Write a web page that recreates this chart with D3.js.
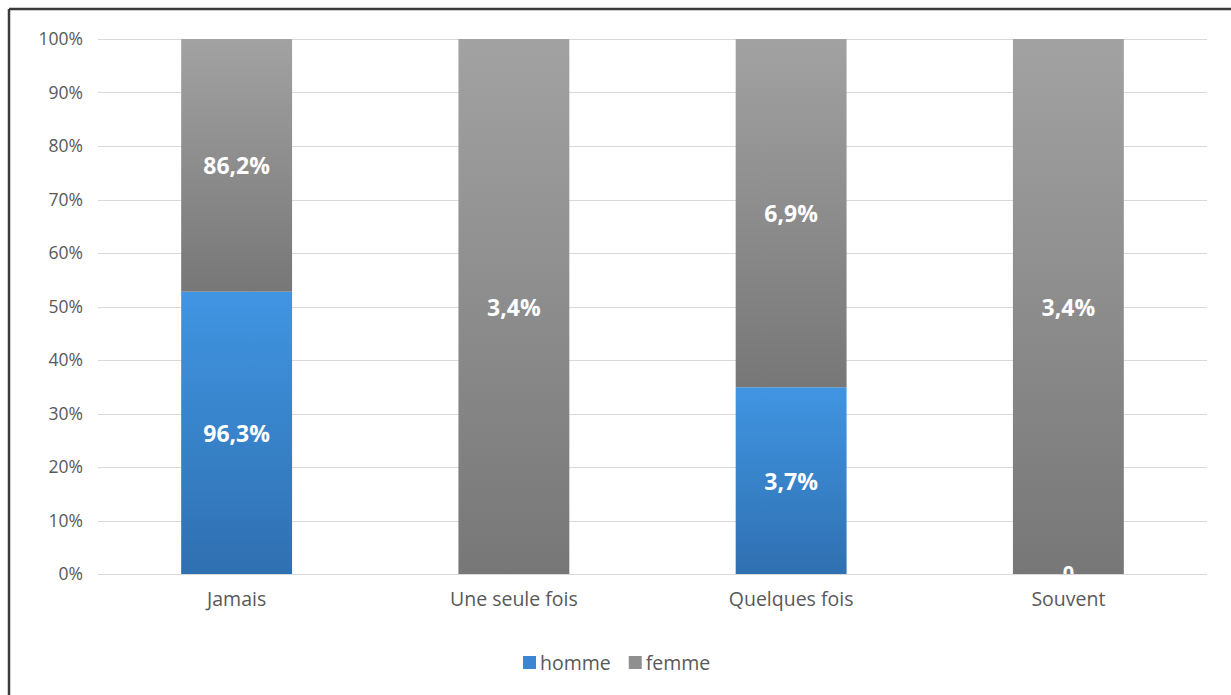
<!DOCTYPE html>
<html>
<head>
<meta charset="utf-8">
<script src="https://cdn.jsdelivr.net/npm/d3@7/dist/d3.min.js"></script>
<style>
  html, body { margin: 0; padding: 0; background: #fff; }
  svg { display: block; font-family: "Open Sans", "DejaVu Sans", sans-serif; }
</style>
</head>
<body>
<svg id="chart" width="1231" height="695"></svg>
<script>
// Answers per frequency, split by sex (percent of each sex)
const categories = ["Jamais", "Une seule fois", "Quelques fois", "Souvent"];
const homme = [96.3, 0, 3.7, 0];
const femme = [86.2, 3.4, 6.9, 3.4];
const seriesNames = ["homme", "femme"];
const tickValues = [0, 0.1, 0.2, 0.3, 0.4, 0.5, 0.6, 0.7, 0.8, 0.9, 1];

const svg = d3.select("#chart");
const W = 1231, H = 695;
const margin = { top: 39, right: 24, bottom: 121, left: 98 };
const plotW = W - margin.left - margin.right;
const plotH = H - margin.top - margin.bottom;

// Frame (top and left edges)
svg.append("line").attr("x1", 9).attr("x2", W).attr("y1", 9).attr("y2", 9)
  .attr("stroke", "#3a3a3a").attr("stroke-width", 2.5);
svg.append("line").attr("x1", 9).attr("x2", 9).attr("y1", 9).attr("y2", H)
  .attr("stroke", "#3a3a3a").attr("stroke-width", 2.5);

const defs = svg.append("defs");
const gradBlue = defs.append("linearGradient").attr("id", "g-homme")
  .attr("x1", 0).attr("y1", 0).attr("x2", 0).attr("y2", 1);
gradBlue.append("stop").attr("offset", "0%").attr("stop-color", "#4095e2");
gradBlue.append("stop").attr("offset", "100%").attr("stop-color", "#2f70b1");
const gradGrey = defs.append("linearGradient").attr("id", "g-femme")
  .attr("x1", 0).attr("y1", 0).attr("x2", 0).attr("y2", 1);
gradGrey.append("stop").attr("offset", "0%").attr("stop-color", "#a2a2a2");
gradGrey.append("stop").attr("offset", "100%").attr("stop-color", "#777777");

// Value labels stay inside the plotting area
defs.append("clipPath").attr("id", "plot-clip")
  .append("rect").attr("x", 0).attr("y", 0).attr("width", plotW).attr("height", plotH);

const g = svg.append("g").attr("transform", `translate(${margin.left},${margin.top})`);

const x = d3.scaleBand().domain(categories).range([0, plotW]).paddingInner(0.6).paddingOuter(0.3);
const y = d3.scaleLinear().domain([0, 1]).range([plotH, 0]);

// Gridlines
g.append("g").selectAll("line").data(tickValues).join("line")
  .attr("x1", 0).attr("x2", plotW)
  .attr("y1", d => Math.round(y(d)) + 0.5).attr("y2", d => Math.round(y(d)) + 0.5)
  .attr("stroke", "#d9d9d9").attr("stroke-width", 1);

// Y axis labels
const yAxis = d3.axisLeft(y).tickValues(tickValues).tickFormat(d3.format(".0%")).tickSize(0).tickPadding(15);
const ya = g.append("g").call(yAxis);
ya.select(".domain").remove();
ya.selectAll("text").attr("fill", "#595959").style("font-size", "17.5px")
  .style("font-family", "'Open Sans', sans-serif");

// X axis labels
const xa = g.append("g").attr("transform", `translate(0,${plotH})`)
  .call(d3.axisBottom(x).tickSize(0).tickPadding(18));
xa.select(".domain").remove();
xa.selectAll("text").attr("fill", "#595959").style("font-size", "19.5px")
  .style("font-family", "'Open Sans', sans-serif");

// Stack normalised to 100%
const rows = categories.map((c, i) => ({ cat: c, homme: homme[i], femme: femme[i] }));
const stacked = d3.stack().keys(seriesNames).offset(d3.stackOffsetExpand)(rows);

const layers = g.append("g").selectAll("g").data(stacked).join("g")
  .attr("fill", d => `url(#g-${d.key})`);
layers.selectAll("rect").data(d => d).join("rect")
  .attr("x", d => x(d.data.cat))
  .attr("width", x.bandwidth())
  .attr("y", d => y(d[1]))
  .attr("height", d => Math.max(0, y(d[0]) - y(d[1])));

// Value labels
const fmt = v => (v === 0 ? "0" : d3.format(".1f")(v).replace(".", ",") + "%");
const labels = g.append("g").attr("clip-path", "url(#plot-clip)");
stacked.forEach(layer => {
  layer.forEach(d => {
    const raw = d.data[layer.key];
    if (layer.key === "homme" && raw === 0 && d.data.cat !== "Souvent") return;
    const zero = raw === 0;
    labels.append("text")
      .attr("x", x(d.data.cat) + x.bandwidth() / 2)
      .attr("y", (y(d[0]) + y(d[1])) / 2 - (zero ? 2 : 0))
      .attr("text-anchor", "middle")
      .attr("dominant-baseline", "central")
      .attr("fill", "#ffffff")
      .style("font-size", zero ? "20px" : "23px")
      .style("font-weight", "bold")
      .text(fmt(raw));
  });
});

// Legend
const legend = svg.append("g").attr("transform", "translate(523,662)");
const items = [{ key: "homme", color: "#3a86d4" }, { key: "femme", color: "#8f8f8f" }];
let lx = 0;
items.forEach(it => {
  legend.append("rect").attr("x", lx).attr("y", -6).attr("width", 13).attr("height", 13).attr("fill", it.color);
  const t = legend.append("text").attr("x", lx + 17).attr("y", 0)
    .attr("dominant-baseline", "central").attr("fill", "#595959")
    .style("font-size", "19.5px").text(it.key);
  lx += 17 + t.node().getComputedTextLength() + 18;
});
</script>
</body>
</html>
